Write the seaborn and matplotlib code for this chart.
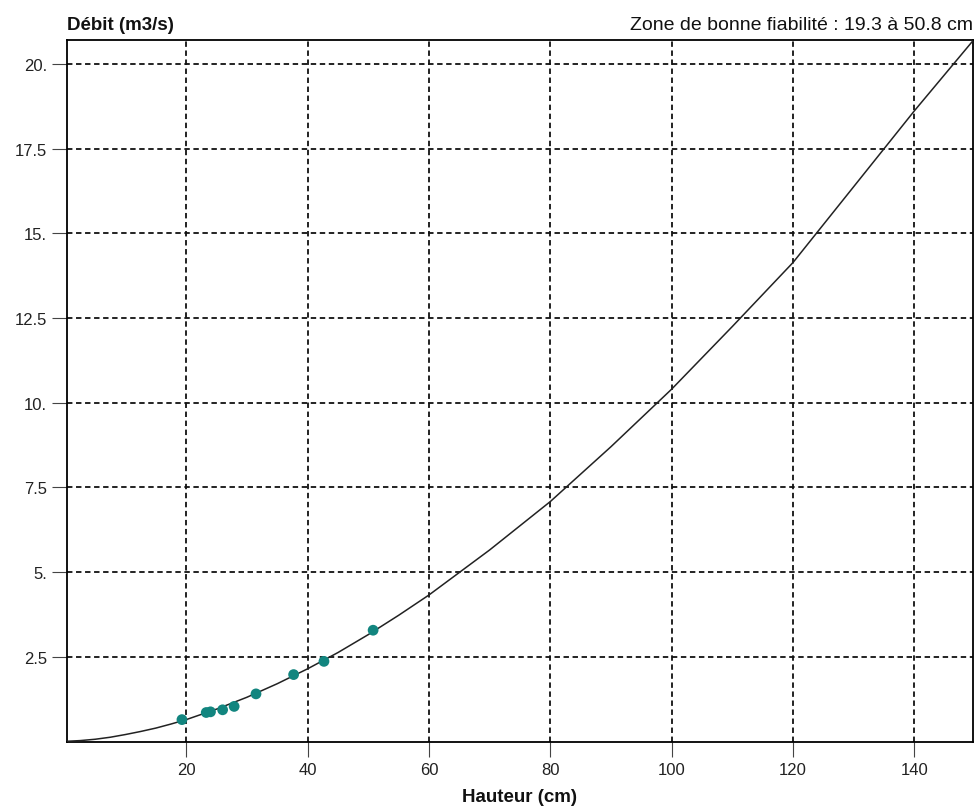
import matplotlib
matplotlib.use("Agg")
import matplotlib.pyplot as plt
import seaborn as sns
import pandas as pd

# Measured points (hauteur cm, débit m3/s)
pt_h = [19.3, 23.3, 24.0, 26.0, 27.9, 31.5, 37.7, 42.7, 50.8]
pt_q = [0.64, 0.85, 0.87, 0.93, 1.03, 1.40, 1.97, 2.36, 3.28]

# Rating curve
curve_h = [0.3, 2.5, 5, 7.5, 10, 12.5, 15, 17.5, 20, 25, 30, 35, 40, 45, 50, 55, 60, 70,
           80, 90, 100, 110, 120, 130, 140, 149.7]
curve_q = [0.0, 0.02, 0.06, 0.12, 0.2, 0.29, 0.39, 0.51, 0.64, 0.95, 1.3, 1.7, 2.14, 2.62,
           3.15, 3.72, 4.32, 5.65, 7.08, 8.7, 10.4, 12.25, 14.14, 16.38, 18.62, 20.7]

x_ticks = [20, 40, 60, 80, 100, 120, 140]
x_tick_labels = ["20", "40", "60", "80", "100", "120", "140"]
y_ticks = [2.5, 5, 7.5, 10, 12.5, 15, 17.5, 20]
y_tick_labels = ["2.5", "5.", "7.5", "10.", "12.5", "15.", "17.5", "20."]

sns.set_theme(style="white")
plt.rcParams["font.family"] = ["Liberation Sans", "DejaVu Sans"]

fig = plt.figure(figsize=(9.76, 8.12), dpi=100)
ax = fig.add_axes([0.0683, 0.0846, 0.9289, 0.8653])

curve_df = pd.DataFrame({"h": curve_h, "q": curve_q})
pts_df = pd.DataFrame({"h": pt_h, "q": pt_q})

sns.lineplot(data=curve_df, x="h", y="q", ax=ax, color="#222222", lw=1.1, zorder=3)
sns.scatterplot(data=pts_df, x="h", y="q", ax=ax, color="#12857f", s=60,
                edgecolor="none", zorder=4)

ax.set_xlim(0.3, 149.7)
ax.set_ylim(-0.03, 20.72)
ax.set_xticks(x_ticks)
ax.set_xticklabels(x_tick_labels)
ax.set_yticks(y_ticks)
ax.set_yticklabels(y_tick_labels)

ax.grid(True, color="#111111", linestyle=(0, (3.0, 2.0)), linewidth=1.3)
ax.set_axisbelow(True)
for s in ax.spines.values():
    s.set_color("black")
    s.set_linewidth(1.3)

ax.tick_params(axis="both", which="major", length=11, width=0.8, color="#444444",
               labelsize=12, pad=3, left=True, bottom=True, labelcolor="#222222")

ax.set_xlabel("Hauteur (cm)", fontsize=13.5, fontweight="bold", labelpad=8, color="#111111")
ax.set_ylabel("")
ax.text(0.0, 1.01, "Débit (m3/s)", transform=ax.transAxes, ha="left", va="bottom",
        fontsize=13.5, fontweight="bold", color="#111111")
ax.text(1.0, 1.01, "Zone de bonne fiabilité : 19.3 à 50.8 cm", transform=ax.transAxes,
        ha="right", va="bottom", fontsize=14, color="#111111")

fig.savefig("out.png", dpi=100)
